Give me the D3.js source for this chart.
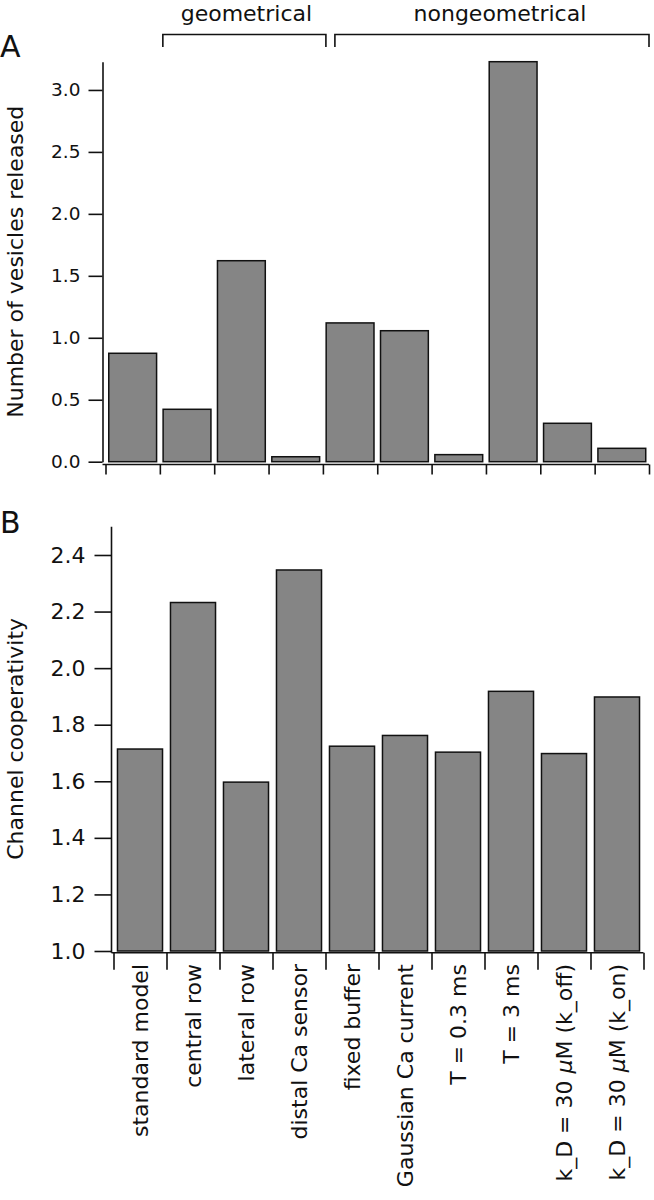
<!DOCTYPE html>
<html>
<head>
<meta charset="utf-8">
<script src="https://cdn.jsdelivr.net/npm/d3@7"></script>
<style>
  body { margin: 0; background: #fff; }
  svg text { font-family: "DejaVu Sans", sans-serif; fill: #111; }
</style>
</head>
<body>
<div id="canvas"></div>
<script>
// Data
var categories = ["standard model", "central row", "lateral row", "distal Ca sensor",
  "fixed buffer", "Gaussian Ca current", "T = 0.3 ms", "T = 3 ms",
  "k_D = 30 \u03bcM (k_off)", "k_D = 30 \u03bcM (k_on)"];
var vesicles = [0.875, 0.423, 1.622, 0.04, 1.12, 1.057, 0.057, 3.228, 0.31, 0.108];
var cooperativity = [1.714, 2.232, 1.597, 2.347, 1.724, 1.762, 1.703, 1.918, 1.698, 1.898];
var vesicleTicks = [0, 0.5, 1.0, 1.5, 2.0, 2.5, 3.0];
var coopTicks = [1.0, 1.2, 1.4, 1.6, 1.8, 2.0, 2.2, 2.4];
var groupNames = ["geometrical", "nongeometrical"];
var groupSpans = [[1, 3], [4, 9]];   // first and last category index

var W = 654, H = 1200;
var svg = d3.select("#canvas").append("svg")
  .attr("width", W)
  .attr("height", H);

var fmt = d3.format(".1f");

// ---------- Panel A ----------
var xA = d3.scaleBand().domain(categories).range([105.5, 649])
  .paddingInner(0.12).paddingOuter(0.06);
var yA = d3.scaleLinear().domain([0, d3.max(vesicles)]).range([461.7, 61.7]);
var axisXA = 102.5;

// bars
svg.append("g").selectAll("rect")
  .data(vesicles)
  .enter().append("rect")
  .attr("x", function (d, i) { return xA(categories[i]); })
  .attr("y", function (d) { return yA(d); })
  .attr("width", xA.bandwidth())
  .attr("height", function (d) { return yA(0) - yA(d); })
  .style("fill", "#858585")
  .style("stroke", "#111")
  .style("stroke-width", "1.5px");

// y axis
var gyA = svg.append("g")
  .attr("transform", "translate(" + axisXA + ",0)")
  .call(d3.axisLeft(yA).tickValues(vesicleTicks).tickFormat(fmt)
    .tickSize(14).tickSizeOuter(0).tickPadding(8));
gyA.selectAll("text").style("font-size", "18.5px").style("font-family", "DejaVu Sans");

// x axis with ticks at band boundaries
var edgesA = d3.scaleLinear().domain([0, categories.length]).range(xA.range());
var gxA = svg.append("g")
  .attr("transform", "translate(0,464.5)")
  .call(d3.axisBottom(edgesA).tickValues(d3.range(categories.length + 1))
    .tickFormat("").tickSize(10).tickSizeOuter(0));
gxA.select(".domain").remove();
gxA.append("line").attr("x1", axisXA).attr("x2", xA.range()[1])
  .attr("y1", 0).attr("y2", 0).style("stroke", "#111");

svg.append("text")
  .attr("transform", "translate(23," + (yA.range()[0] + yA.range()[1]) / 2 + ") rotate(-90)")
  .attr("text-anchor", "middle")
  .style("font-size", "22px")
  .text("Number of vesicles released");

svg.append("text").attr("x", 0).attr("y", 57).style("font-size", "30px").text("A");

// group brackets
groupSpans.forEach(function (s, k) {
  var x0 = edgesA(s[0]) + (k === 0 ? 3 : 12);
  var x1 = k === 0 ? edgesA(s[1] + 1) + 3 : edgesA(s[1] + 1);
  svg.append("path")
    .attr("d", "M" + x0 + ",47V34.5H" + x1 + "V47")
    .style("fill", "none").style("stroke", "#111").style("stroke-width", "1.6px");
  svg.append("text")
    .attr("x", (x0 + x1) / 2 + (k === 0 ? 2 : 8))
    .attr("y", 21)
    .attr("text-anchor", "middle")
    .style("font-size", "22px")
    .text(groupNames[k]);
});

// ---------- Panel B ----------
var xB = d3.scaleBand().domain(categories).range([113.5, 643.5])
  .paddingInner(0.15).paddingOuter(0.075);
var yB = d3.scaleLinear().domain([1.0, 2.5]).range([951, 526.7]);
var axisXB = 111.5;

svg.append("g").selectAll("rect")
  .data(cooperativity)
  .enter().append("rect")
  .attr("x", function (d, i) { return xB(categories[i]); })
  .attr("y", function (d) { return yB(d); })
  .attr("width", xB.bandwidth())
  .attr("height", function (d) { return yB(1.0) - yB(d); })
  .style("fill", "#858585")
  .style("stroke", "#111")
  .style("stroke-width", "1.5px");

var gyB = svg.append("g")
  .attr("transform", "translate(" + axisXB + ",0)")
  .call(d3.axisLeft(yB).tickValues(coopTicks).tickFormat(fmt)
    .tickSize(17).tickSizeOuter(0).tickPadding(9));
gyB.select(".domain").attr("d", "M0," + yB.range()[1] + "V952.7");
gyB.selectAll("text").style("font-size", "22px").style("font-family", "DejaVu Sans");

var edgesB = d3.scaleLinear().domain([0, categories.length]).range(xB.range());
var gxB = svg.append("g")
  .attr("transform", "translate(0,952.7)")
  .call(d3.axisBottom(edgesB).tickValues(d3.range(categories.length + 1))
    .tickFormat("").tickSize(17).tickSizeOuter(0));
gxB.select(".domain").remove();
gxB.append("line").attr("x1", axisXB).attr("x2", xB.range()[1])
  .attr("y1", 0).attr("y2", 0).style("stroke", "#111");

svg.selectAll(".tick line, .domain").style("stroke", "#111").style("stroke-width", "1.6px");
gxA.selectAll("line").style("stroke", "#111").style("stroke-width", "1.6px");
gxB.selectAll("line").style("stroke", "#111").style("stroke-width", "1.6px");

svg.append("text")
  .attr("transform", "translate(23," + (yB.range()[0] + yB.range()[1]) / 2 + ") rotate(-90)")
  .attr("text-anchor", "middle")
  .style("font-size", "22px")
  .text("Channel cooperativity");

svg.append("text").attr("x", 0).attr("y", 533).style("font-size", "30px").text("B");

// category labels, rotated
var labels = svg.append("g").selectAll("text")
  .data(categories)
  .enter().append("text")
  .attr("transform", function (d) {
    return "translate(" + (xB(d) + xB.bandwidth() / 2) + ",964) rotate(-90)";
  })
  .attr("text-anchor", "end")
  .attr("dy", "0.36em")
  .style("font-size", "22px");

labels.each(function (d) {
  var t = d3.select(this);
  var parts = d.split("\u03bc");
  t.append("tspan").text(parts[0]);
  if (parts.length > 1) {
    t.append("tspan").style("font-style", "italic").text("\u03bc");
    t.append("tspan").text(parts[1]);
  }
});
</script>
</body>
</html>
